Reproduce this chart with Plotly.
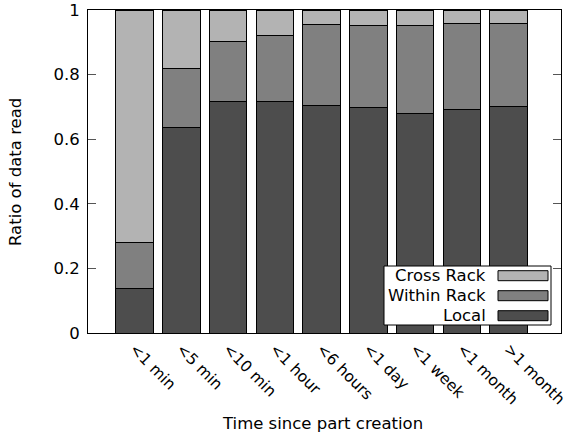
import plotly.graph_objects as go

# Age buckets of a part at read time
categories = ["<1 min", "<5 min", "<10 min", "<1 hour", "<6 hours",
              "<1 day", "<1 week", "<1 month", ">1 month"]

# Fraction of data read per locality class (stacked, sums to 1)
local = [0.138, 0.637, 0.716, 0.718, 0.704, 0.697, 0.681, 0.691, 0.701]
within_rack = [0.143, 0.182, 0.185, 0.202, 0.251, 0.255, 0.270, 0.266, 0.257]
cross_rack = [0.719, 0.181, 0.099, 0.080, 0.045, 0.048, 0.049, 0.043, 0.042]

y_ticks = [0, 0.2, 0.4, 0.6, 0.8, 1]
y_tick_text = ["0", "0.2", "0.4", "0.6", "0.8", "1"]

C_LOCAL = "#4d4d4d"
C_WITHIN = "#808080"
C_CROSS = "#b3b3b3"
FONT = "DejaVu Sans"
FS = 16.5

W, H = 569, 436
L, R, T, B = 88, 8, 10, 103
PW, PH = W - L - R, H - T - B

xpos = list(range(len(categories)))

fig = go.Figure()
for name, vals, col in [("Local", local, C_LOCAL),
                        ("Within Rack", within_rack, C_WITHIN),
                        ("Cross Rack", cross_rack, C_CROSS)]:
    fig.add_trace(go.Bar(
        x=xpos, y=vals, name=name, width=0.8,
        marker=dict(color=col, line=dict(color="black", width=1)),
        showlegend=False,
    ))


def px_x(px):
    return (px - L) / PW


def px_y(py):
    return (T + PH - py) / PH


# Key box (text on the left, swatch on the right)
shapes = [dict(type="rect", xref="paper", yref="paper",
               x0=px_x(384), x1=px_x(551), y0=px_y(325), y1=px_y(266),
               fillcolor="white", line=dict(color="black", width=1))]
annotations = []
for i, (name, col) in enumerate([("Cross Rack", C_CROSS),
                                 ("Within Rack", C_WITHIN),
                                 ("Local", C_LOCAL)]):
    cy = 275.7 + 20 * i
    shapes.append(dict(type="rect", xref="paper", yref="paper",
                       x0=px_x(498), x1=px_x(548),
                       y0=px_y(cy + 5), y1=px_y(cy - 5),
                       fillcolor=col, line=dict(color="black", width=1)))
    annotations.append(dict(text=name, xref="paper", yref="paper",
                            x=px_x(488), y=px_y(cy), xanchor="right",
                            yanchor="middle", showarrow=False,
                            font=dict(family=FONT, size=FS, color="black")))

# Axis titles
annotations.append(dict(text="Ratio of data read", xref="paper", yref="paper",
                        x=px_x(15), y=px_y(172), textangle=-90,
                        xanchor="center", yanchor="middle", showarrow=False,
                        font=dict(family=FONT, size=FS, color="black")))
annotations.append(dict(text="Time since part creation", xref="paper", yref="paper",
                        x=px_x(322), y=px_y(423), xanchor="center",
                        yanchor="middle", showarrow=False,
                        font=dict(family=FONT, size=FS, color="black")))

fig.update_layout(
    width=W, height=H,
    margin=dict(l=L, r=R, t=T, b=B, pad=0, autoexpand=False),
    barmode="stack",
    plot_bgcolor="white", paper_bgcolor="white",
    font=dict(family=FONT, size=FS, color="black"),
    shapes=shapes, annotations=annotations,
    xaxis=dict(range=[-0.995, 9.12], tickvals=xpos, ticktext=categories,
               tickangle=45, ticks="", showgrid=False, zeroline=False,
               showline=True, linecolor="black", linewidth=1, mirror=True,
               automargin=False, ticklabeloverflow="allow",
               ticklabelstandoff=0,
               tickfont=dict(family=FONT, size=15.5, color="black")),
    yaxis=dict(range=[0, 1], tickvals=y_ticks, ticktext=y_tick_text,
               ticks="inside", ticklen=8, tickcolor="#555555", tickwidth=1,
               showgrid=False, zeroline=False,
               showline=True, linecolor="black", linewidth=1, mirror="ticks",
               ticklabelstandoff=4, automargin=False,
               tickfont=dict(family=FONT, size=FS, color="black")),
)

fig.write_html("out.html")
